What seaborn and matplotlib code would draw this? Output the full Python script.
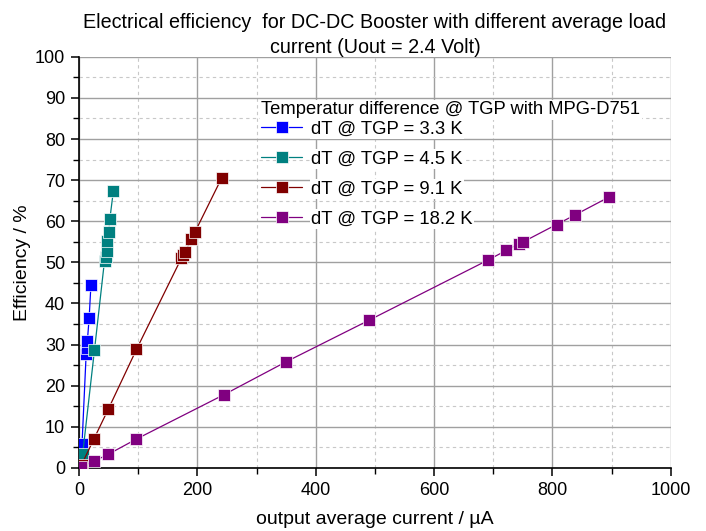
import matplotlib
matplotlib.use("Agg")
import matplotlib.pyplot as plt
import pandas as pd
import seaborn as sns
from matplotlib.ticker import MultipleLocator

# data
labels = ["dT @ TGP = 3.3 K", "dT @ TGP = 4.5 K", "dT @ TGP = 9.1 K", "dT @ TGP = 18.2 K"]
colors = ["#0000FF", "#008080", "#800000", "#800080"]

x_33 = [5, 12, 13, 14, 17, 20]
y_33 = [5.8, 27.8, 29.2, 30.8, 36.4, 44.4]

x_45 = [6, 26, 43, 45, 47, 48, 50, 52, 58]
y_45 = [3.3, 28.6, 50.4, 51.2, 52.8, 55.3, 57.4, 60.5, 67.4]

x_91 = [4.5, 25, 49.5, 97, 173, 176, 179, 190, 196, 241]
y_91 = [0.8, 7.0, 14.3, 28.8, 51.0, 51.8, 52.4, 55.7, 57.4, 70.5]

x_182 = [4, 25, 49.5, 97, 245, 350, 490, 692, 722, 743, 751, 807, 838, 896]
y_182 = [0.3, 1.6, 3.3, 7.0, 17.8, 25.8, 35.9, 50.6, 52.9, 54.5, 55.0, 59.2, 61.5, 65.9]

frames = []
for lab, xs, ys in zip(labels, [x_33, x_45, x_91, x_182], [y_33, y_45, y_91, y_182]):
    frames.append(pd.DataFrame({"current": xs, "eff": ys, "series": lab}))
df = pd.concat(frames, ignore_index=True)

sns.set_style("white")
plt.rcParams["font.family"] = ["Liberation Sans", "DejaVu Sans"]
plt.rcParams["text.color"] = "black"
plt.rcParams["axes.labelcolor"] = "black"
plt.rcParams["xtick.color"] = "black"
plt.rcParams["ytick.color"] = "black"

fig = plt.figure(figsize=(7.06, 5.31), dpi=100)
ax = fig.add_axes([0.112, 0.119, 0.838, 0.774])

sns.lineplot(data=df, x="current", y="eff", hue="series", hue_order=labels,
             palette=colors, marker="s", markersize=8.2, markeredgecolor="white",
             markeredgewidth=0.5, linewidth=0.9, sort=False, estimator=None,
             ax=ax, zorder=3)

ax.set_xlim(0, 1000)
ax.set_ylim(0, 100)
ax.xaxis.set_major_locator(MultipleLocator(200))
ax.xaxis.set_minor_locator(MultipleLocator(100))
ax.yaxis.set_major_locator(MultipleLocator(10))
ax.yaxis.set_minor_locator(MultipleLocator(5))

ax.grid(which="major", color="#a0a0a0", linewidth=1.0, linestyle="-", zorder=0)
ax.grid(which="minor", color="#c8c8c8", linewidth=0.8, linestyle=(0, (3, 3)), zorder=0)
ax.set_axisbelow(True)

for s in ["top", "right"]:
    ax.spines[s].set_visible(False)
for s in ["left", "bottom"]:
    ax.spines[s].set_color("black")
    ax.spines[s].set_linewidth(1.2)

ax.tick_params(which="major", direction="out", length=6, width=1.1, color="black",
               labelsize=13, left=True, bottom=True, pad=4)
ax.tick_params(which="minor", direction="out", length=4, width=1.0, color="black",
               left=True, bottom=True)

ax.set_xlabel("output average current / µA", fontsize=14, labelpad=9)
ax.set_ylabel("Efficiency / %", fontsize=14, labelpad=3)
ax.set_title("Electrical efficiency  for DC-DC Booster with different average load\ncurrent (Uout = 2.4 Volt)",
             fontsize=14.2, pad=3, linespacing=1.4)

handles, labs = ax.get_legend_handles_labels()
leg = ax.legend(handles, labs, title="Temperatur difference @ TGP with MPG-D751",
                loc="upper left", bbox_to_anchor=(0.357, 0.827),
                bbox_transform=fig.transFigure, frameon=False, fontsize=13.3,
                title_fontsize=13.2, alignment="left", borderpad=0,
                labelspacing=0.7, handlelength=2.2, handletextpad=0.5)
for t in leg.get_texts():
    t.set_bbox(dict(facecolor="white", edgecolor="none", pad=1))
leg.get_title().set_bbox(dict(facecolor="white", edgecolor="none", pad=1))
leg._legend_box.sep = 2

fig.savefig("out.png", dpi=100)
